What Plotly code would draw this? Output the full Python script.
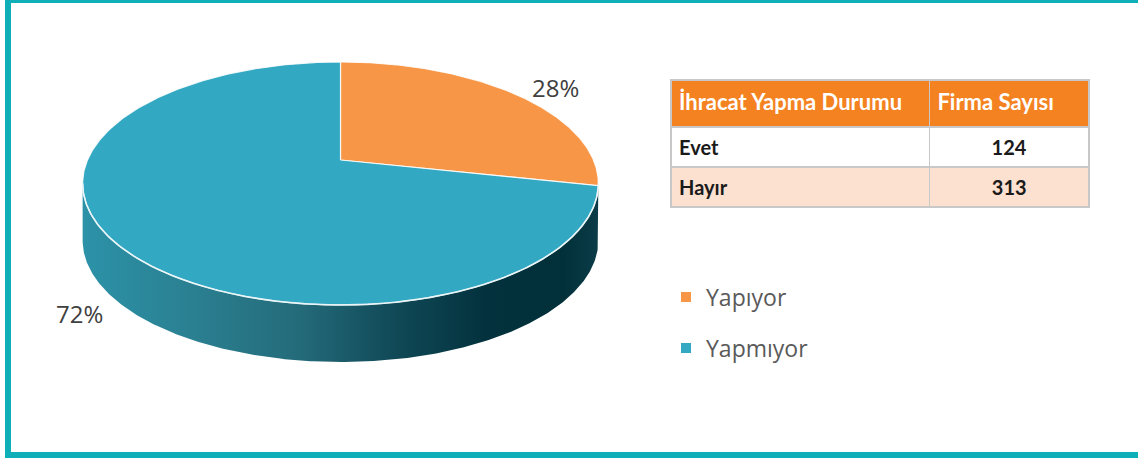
import numpy as np
import plotly.graph_objects as go

# ---------------- data ----------------
categories = ["Yapıyor", "Yapmıyor"]
table_header = ["İhracat Yapma Durumu", "Firma Sayısı"]
table_labels = ["Evet", "Hayır"]
firm_counts = [124, 313]
slice_colors = ["#f79646", "#33a8c2"]

# ---------------- geometry of the tilted pie ----------------
CX, CY = 340.5, 160.0      # pie centre (pixel space)
A, B, K = 253.0, 117.0, 0.1934  # horizontal / vertical radius, perspective factor
DEPTH = 57.0               # thickness of the side wall


def proj(theta):
    X = np.cos(theta)
    Y = np.sin(theta)
    d = 1 + K * Y
    return CX + A * X / d, CY - B * Y / d


total = sum(firm_counts)
fracs = [v / total for v in firm_counts]

fig = go.Figure()

# side wall (front half, visible part)
t0 = np.pi + np.arcsin(K)
t1 = 2 * np.pi - np.arcsin(K)
ts = np.linspace(t0, t1, 300)
sx, sy = proj(ts)
side_x = np.concatenate([sx, sx[::-1], sx[:1]])
side_y = np.concatenate([sy, (sy + DEPTH)[::-1], sy[:1]])
fig.add_trace(go.Scatter(
    x=side_x, y=side_y, mode="lines", fill="toself",
    line=dict(width=0, color="rgba(0,0,0,0)"),
    fillgradient=dict(type="horizontal", colorscale=[
        [0.0, "#2c92a8"], [0.22, "#2a7f90"], [0.42, "#246b7a"],
        [0.6, "#114a58"], [0.78, "#03323e"], [0.93, "#013039"], [1.0, "#0b3c47"]]),
    hoverinfo="skip", showlegend=False))

# top face slices
start = np.pi / 2
cum = 0.0
for name, f, col in zip(categories, fracs, slice_colors):
    a0 = start - cum * 2 * np.pi
    a1 = start - (cum + f) * 2 * np.pi
    tt = np.linspace(a0, a1, 400)
    px, py = proj(tt)
    xs = np.concatenate([[CX], px, [CX]])
    ys = np.concatenate([[CY], py, [CY]])
    fig.add_trace(go.Scatter(
        x=xs, y=ys, mode="lines", fill="toself", fillcolor=col,
        line=dict(color="rgba(255,255,255,0.85)", width=1.2),
        hoverinfo="skip", showlegend=False))
    cum += f

# light rim between top face and side
fig.add_trace(go.Scatter(
    x=sx, y=sy, mode="lines", line=dict(color="rgba(235,245,248,0.95)", width=1.6),
    hoverinfo="skip", showlegend=False))

# legend-only entries
legend_names = ["legend", "legend2"]
for name, col, lg in zip(categories, slice_colors, legend_names):
    fig.add_trace(go.Scatter(
        x=[None], y=[None], mode="markers", name=name, legend=lg,
        marker=dict(symbol="square", size=10, color=col)))

# percentage labels
label_pos = [(555, 87), (79, 313)]
for f, (lx, ly) in zip(fracs, label_pos):
    fig.add_annotation(x=lx, y=ly, text=f"{round(f * 100)}%", showarrow=False,
                       font=dict(family="Open Sans", size=24, color="#404040"))

# table
fig.add_trace(go.Table(
    domain=dict(x=[671 / 1138, 1090 / 1138], y=[0.0, 1 - 80 / 458]),
    columnwidth=[259, 160],
    header=dict(values=[f"<b>{h}</b>" for h in table_header],
                fill_color="#f58220", line=dict(color="#c8c8c8", width=1.5),
                align=["left", "left"], height=47,
                font=dict(family="Lato", size=22, color="white")),
    cells=dict(values=[[f"<b>{t}</b>" for t in table_labels],
                       [f"<b>{v}</b>" for v in firm_counts]],
               fill_color=[["#ffffff", "#fce0d0"]] * 2,
               line=dict(color="#c8c8c8", width=1.5),
               align=["left", "center"], height=40,
               font=dict(family="Lato", size=20, color="#1a1a1a"))))

# frame
frame_col = "#0eafb8"
fig.add_shape(type="rect", x0=5, x1=11, y0=0, y1=458, fillcolor=frame_col, line_width=0, layer="above")
fig.add_shape(type="rect", x0=5, x1=1138, y0=0, y1=3, fillcolor=frame_col, line_width=0, layer="above")
fig.add_shape(type="rect", x0=5, x1=1138, y0=452, y1=458, fillcolor=frame_col, line_width=0, layer="above")

leg_common = dict(font=dict(family="Open Sans", size=23, color="#5a5a5a"),
                  bgcolor="rgba(0,0,0,0)", itemwidth=30, xanchor="left", yanchor="middle")
fig.update_layout(
    width=1138, height=458,
    margin=dict(l=0, r=0, t=0, b=0),
    paper_bgcolor="white", plot_bgcolor="white",
    xaxis=dict(range=[0, 1138], visible=False, fixedrange=True),
    yaxis=dict(range=[458, 0], visible=False, fixedrange=True),
    legend=dict(x=666 / 1138, y=1 - 297 / 458, **leg_common),
    legend2=dict(x=666 / 1138, y=1 - 348 / 458, **leg_common),
)

fig.write_html("out.html", config=dict(displayModeBar=False),
               post_script="document.body.style.margin='0';document.body.style.overflow='hidden';")
